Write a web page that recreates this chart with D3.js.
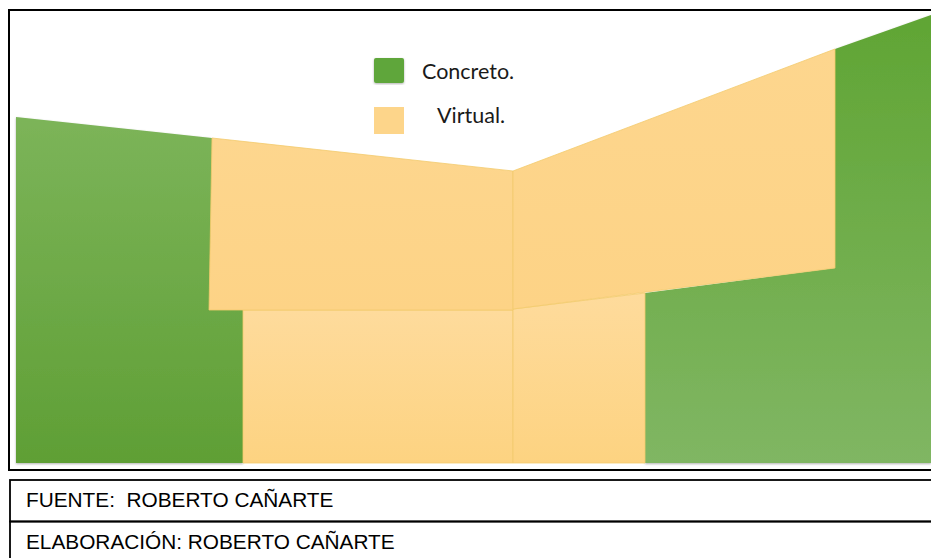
<!DOCTYPE html>
<html><head><meta charset="utf-8">
<script src="https://cdn.jsdelivr.net/npm/d3@7"></script>
<style>html,body{margin:0;padding:0;background:#fff;}svg{display:block;}</style>
</head><body><div id="chart"></div>
<script>
// Legend categories
const categories = ["Concreto.", "Virtual."];
const categoryColors = ["#5fa63a", "#fdd58a"];
// Panel outlines in chart units: [x, height above baseline]
const panelNames = ["concreto-izq", "concreto-der", "virtual-inf-izq", "virtual-inf-der", "virtual-sup-izq", "virtual-sup-der"];
const panelCategory = [0, 0, 1, 1, 1, 1];
const panelPoints = [
  [[0,346],[196,325],[196,153],[227,153],[227,0],[0,0]],
  [[819,414],[915,448],[915,0],[629,0],[629,170],[819,195]],
  [[227,153],[497,153],[497,0],[227,0]],
  [[497,154],[629,170],[629,0],[497,0]],
  [[196,325],[497,292],[497,153],[193,153]],
  [[497,292],[819,414],[819,195],[497,154]]
];
const panelFill = ["gLeft", "gRight", "yLow", "yLow", "yUp", "yUp"];
const footerRows = ["FUENTE:  ROBERTO CAÑARTE", "ELABORACIÓN: ROBERTO CAÑARTE"];

const W = 931, H = 558;
const svg = d3.select("#chart").append("svg").attr("width", W).attr("height", H);
const defs = svg.append("defs");
function lg(id, c1, c2) {
  const g = defs.append("linearGradient").attr("id", id).attr("x1", 0).attr("y1", 0).attr("x2", 0).attr("y2", 1);
  g.append("stop").attr("offset", "0%").attr("stop-color", c1);
  g.append("stop").attr("offset", "100%").attr("stop-color", c2);
}
lg("gLeft", "#7cb459", "#5f9f35");
lg("gRight", "#60a534", "#80b663");
lg("yLow", "#fedb9c", "#fdd381");
lg("yUp", "#fdd68e", "#fdd386");
const f = defs.append("filter").attr("id", "sh").attr("x", "-5%").attr("y", "-5%").attr("width", "110%").attr("height", "110%");
f.append("feDropShadow").attr("dx", 0).attr("dy", 1).attr("stdDeviation", 1.2).attr("flood-color", "#000").attr("flood-opacity", 0.3);

const x = d3.scaleLinear().domain([0, 915]).range([16, 931]);
const y = d3.scaleLinear().domain([0, 448]).range([463, 15]);
const line = d3.line().x(d => x(d[0])).y(d => y(d[1])).curve(d3.curveLinearClosed);

// outer frame
svg.append("rect").attr("x", 9).attr("y", 10).attr("width", 940).attr("height", 460)
  .attr("fill", "none").attr("stroke", "#000").attr("stroke-width", 2);

svg.append("g").selectAll("path").data(panelPoints).join("path")
  .attr("class", (d, i) => panelNames[i])
  .attr("d", d => line(d))
  .attr("fill", (d, i) => `url(#${panelFill[i]})`)
  .attr("stroke", (d, i) => panelCategory[i] === 1 ? "#f3ca6c" : "none")
  .attr("stroke-width", 0.8)
  .attr("filter", (d, i) => panelCategory[i] === 0 ? "url(#sh)" : null);

// legend
const leg = svg.append("g");
const ly = d3.scalePoint().domain(categories).range([58, 107]);
leg.selectAll("rect").data(categories).join("rect")
  .attr("x", 374).attr("y", d => ly(d)).attr("width", 30).attr("height", (d, i) => i === 0 ? 25 : 27).attr("rx", (d, i) => i === 0 ? 2 : 0)
  .attr("fill", (d, i) => categoryColors[i])
  .attr("filter", (d, i) => i === 0 ? "url(#sh)" : null);
leg.selectAll("text").data(categories).join("text")
  .attr("x", (d, i) => i === 0 ? 422 : 437).attr("y", (d, i) => ly(d) + (i === 0 ? 21 : 16))
  .attr("font-family", "Lato, 'Open Sans', sans-serif").attr("font-size", 21.5).attr("fill", "#1a1a1a")
  .text(d => d);

// footer table
const fy = d3.scaleBand().domain(footerRows).range([480, 563]);
svg.append("g").selectAll("rect").data(footerRows).join("rect")
  .attr("x", 10).attr("y", d => fy(d)).attr("width", 940).attr("height", fy.bandwidth())
  .attr("fill", "none").attr("stroke", "#000").attr("stroke-width", 1.8);
svg.append("g").selectAll("text").data(footerRows).join("text")
  .attr("x", 26).attr("y", d => fy(d) + 27)
  .style("white-space", "pre").attr("xml:space", "preserve")
  .attr("font-family", "'Liberation Sans', Arial, sans-serif").attr("font-size", 20.8).attr("fill", "#000")
  .text(d => d);
</script></body></html>
